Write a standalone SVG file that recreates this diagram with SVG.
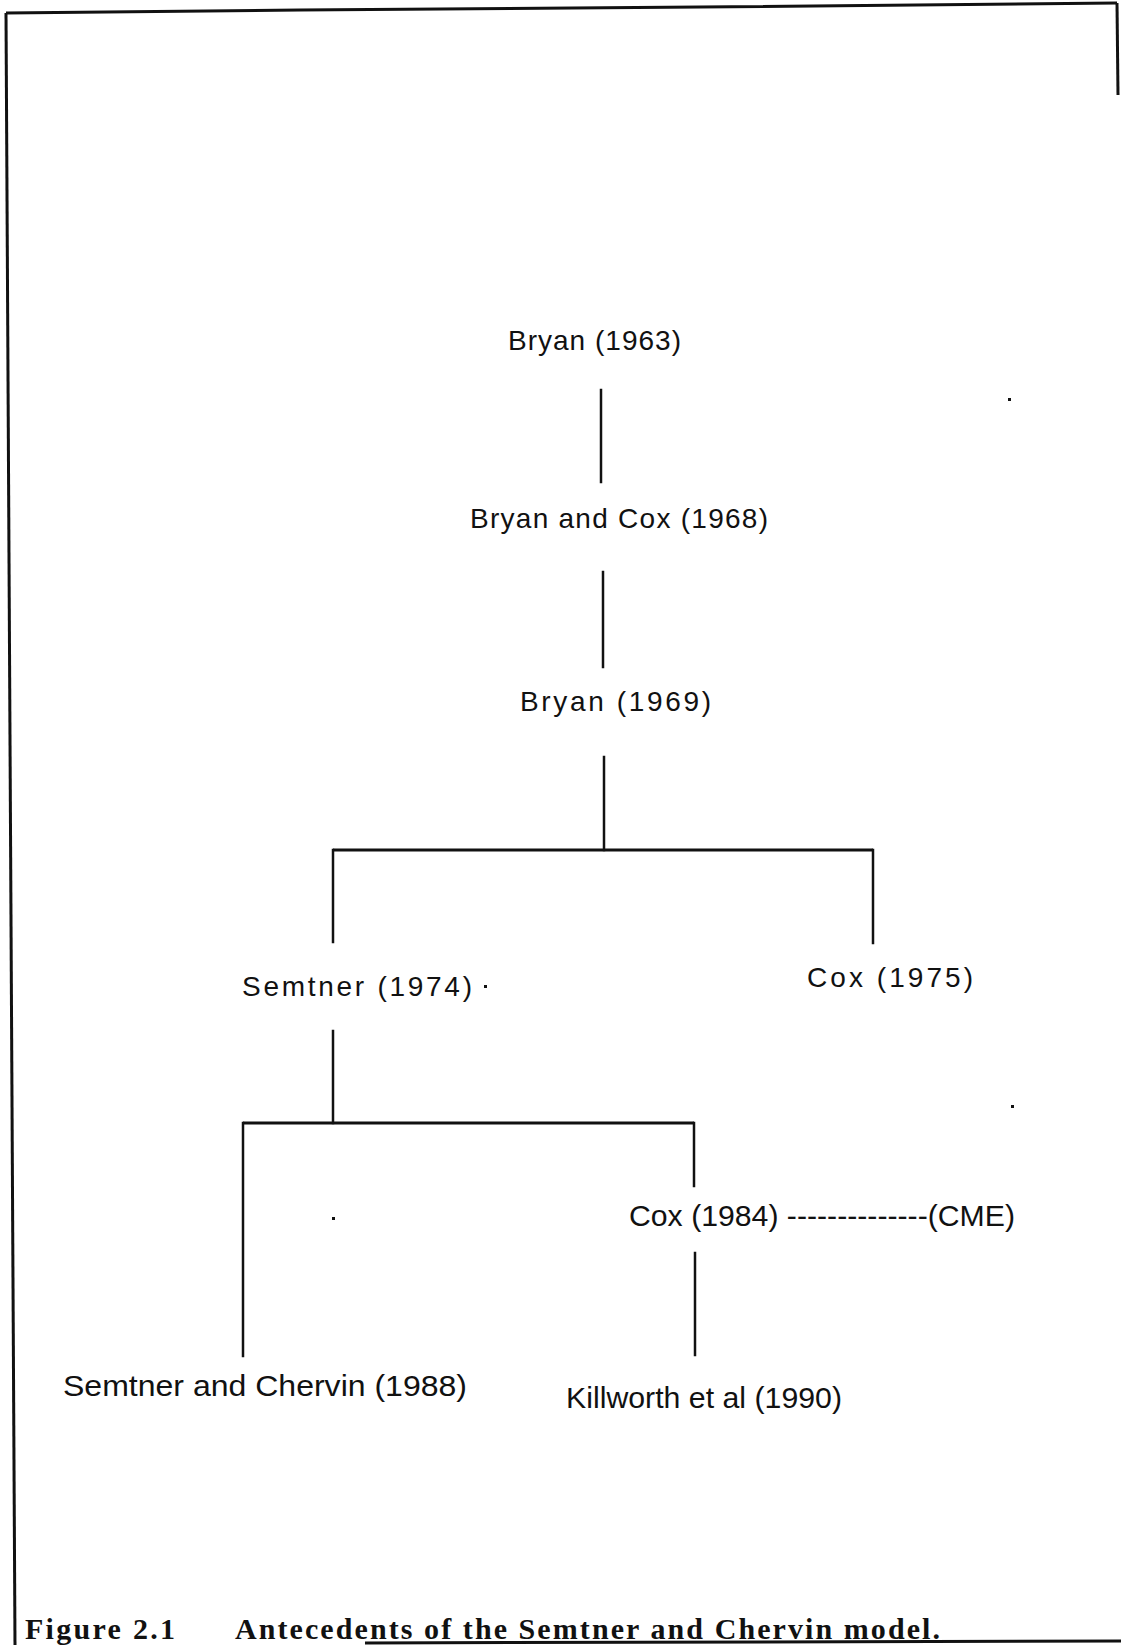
<svg xmlns="http://www.w3.org/2000/svg" width="1121" height="1645" viewBox="0 0 1121 1645">
<style>
.lbl{font-family:"Liberation Sans",Arial,sans-serif;font-size:28px;fill:#111}
.low{font-family:"Liberation Sans",Arial,sans-serif;font-size:30px;fill:#111}
.cap{font-family:"Liberation Serif","Times New Roman",serif;font-size:30px;font-weight:bold;fill:#111}
.ln{stroke:#111;stroke-width:2.5;fill:none;stroke-linecap:square}
.hz{stroke:#111;stroke-width:3;fill:none}
.bd{stroke:#111;stroke-width:3;fill:none}
</style>
<rect width="1121" height="1645" fill="#fff"/>
<g id="frame">
<path class="bd" d="M6,13 L300,10 L700,7 L1117,3"/>
<path class="bd" d="M6,13 L15,1645"/>
<path class="bd" d="M1117,3 L1118,95"/>
<path class="bd" d="M365,1643 L1121,1641"/>
</g>
<g id="connectors">
<line class="ln" x1="601" y1="390" x2="601" y2="482"/>
<line class="ln" x1="603" y1="572" x2="603" y2="667"/>
<line class="ln" x1="604" y1="757" x2="604" y2="850"/>
<line class="hz" x1="333" y1="850" x2="873" y2="850"/>
<line class="ln" x1="333" y1="850" x2="333" y2="942"/>
<line class="ln" x1="873" y1="850" x2="873" y2="943"/>
<line class="ln" x1="333" y1="1031" x2="333" y2="1123"/>
<line class="hz" x1="243" y1="1123" x2="694" y2="1123"/>
<line class="ln" x1="243" y1="1123" x2="243" y2="1356"/>
<line class="ln" x1="694" y1="1123" x2="694" y2="1186"/>
<line class="ln" x1="695" y1="1253" x2="695" y2="1355"/>
</g>
<g id="n-bryan1963"><text class="lbl" x="508" y="350" textLength="173" lengthAdjust="spacing">Bryan  (1963)</text></g>
<g id="n-bryancox1968"><text class="lbl" x="470" y="528" textLength="298" lengthAdjust="spacing">Bryan and Cox (1968)</text></g>
<g id="n-bryan1969"><text class="lbl" x="520" y="711" textLength="191" lengthAdjust="spacing">Bryan  (1969)</text></g>
<g id="n-semtner1974"><text class="lbl" x="242" y="996" textLength="230" lengthAdjust="spacing">Semtner  (1974)</text></g>
<g id="n-cox1975"><text class="lbl" x="807" y="987" textLength="166" lengthAdjust="spacing">Cox  (1975)</text></g>
<g id="n-cox1984"><text class="low" x="629" y="1226" textLength="386" lengthAdjust="spacingAndGlyphs">Cox (1984) --------------(CME)</text></g>
<g id="n-semtnerchervin1988"><text class="low" x="63" y="1396" textLength="404" lengthAdjust="spacingAndGlyphs">Semtner and Chervin (1988)</text></g>
<g id="n-killworth1990"><text class="low" x="566" y="1408" textLength="276" lengthAdjust="spacingAndGlyphs">Killworth et al (1990)</text></g>
<g id="caption">
<text class="cap" x="25" y="1639" textLength="150" lengthAdjust="spacing">Figure 2.1</text>
<text class="cap" x="235" y="1639" textLength="705" lengthAdjust="spacing">Antecedents of the Semtner and Chervin model.</text>
</g>
<g id="specks" fill="#111">
<rect x="484" y="985" width="3" height="3"/>
<rect x="332" y="1217" width="3" height="3"/>
<rect x="1008" y="398" width="3" height="3"/>
<rect x="1011" y="1105" width="3" height="3"/>
</g>
</svg>
